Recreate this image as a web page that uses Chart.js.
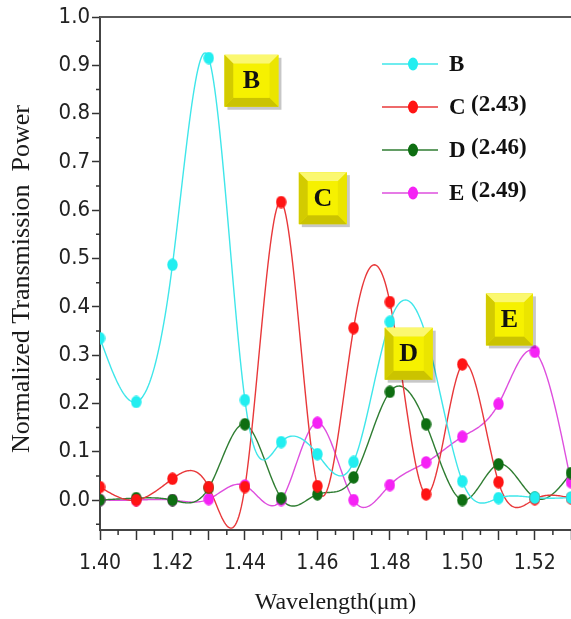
<!DOCTYPE html>
<html lang="en">
<head>
<meta charset="UTF-8" />
<title>Normalized transmission spectra</title>
<style>
  html, body { margin: 0; padding: 0; background: #fff; }
  .chart { width: 571px; height: 619px; position: relative; }
</style>
</head>
<body>
<script src="https://cdn.jsdelivr.net/npm/chart.js"></script>
<div class="chart"><canvas id="chart"></canvas></div>
<script>
// wavelength samples (um)
const wavelengths = [1.40, 1.41, 1.42, 1.43, 1.44, 1.45, 1.46, 1.47, 1.48, 1.49, 1.50, 1.51, 1.52, 1.53];
const seriesB = [0.335, 0.203, 0.487, 0.915, 0.207, 0.120, 0.095, 0.079, 0.369, 0.340, 0.039, 0.004, 0.005, 0.005];
const seriesC = [0.027, 0.000, 0.044, 0.027, 0.027, 0.617, 0.029, 0.356, 0.410, 0.012, 0.281, 0.037, 0.002, 0.004];
const seriesD = [0.000, 0.004, 0.000, 0.025, 0.157, 0.004, 0.012, 0.047, 0.224, 0.157, 0.000, 0.074, 0.005, 0.056];
const seriesE = [0.000, 0.000, 0.000, 0.002, 0.030, 0.000, 0.160, 0.000, 0.031, 0.078, 0.131, 0.199, 0.307, 0.037];

const seriesNames = ["B", "C", "D", "E"];
const seriesTags = ["", "(2.43)", "(2.46)", "(2.49)"];

const xTicks = [1.40, 1.41, 1.42, 1.43, 1.44, 1.45, 1.46, 1.47, 1.48, 1.49, 1.50, 1.51, 1.52, 1.53];
const yTicks = [0.0, 0.1, 0.2, 0.3, 0.4, 0.5, 0.6, 0.7, 0.8, 0.9, 1.0];

// yellow callout boxes, anchored in data coordinates
const callouts = [
  { text: "B", x: 1.4418, y: 0.868, w: 54 },
  { text: "C", x: 1.4615, y: 0.625, w: 48 },
  { text: "D", x: 1.4852, y: 0.303, w: 48 },
  { text: "E", x: 1.5130, y: 0.374, w: 47 },
];

const lineColors = ["#3fe6ea", "#e8383a", "#2f7d32", "#de4fde"];
const dotColors = ["#22eef0", "#ff1414", "#0e6e12", "#f522f5"];

const serif = "'Liberation Serif', 'Times New Roman', serif";
const narrow = "'Liberation Sans Narrow', 'Arial Narrow', 'DejaVu Sans Condensed', 'Roboto Condensed', sans-serif";

function dot(color) {
  const c = document.createElement("canvas");
  c.width = 11;
  c.height = 13;
  const g = c.getContext("2d");
  g.fillStyle = color;
  g.beginPath();
  g.ellipse(5.5, 6.5, 5.2, 6.2, 0, 0, Math.PI * 2);
  g.fill();
  return c;
}

// natural cubic spline second derivatives
function secondDerivs(xs, ys) {
  const n = xs.length;
  const m = new Array(n).fill(0);
  const u = new Array(n).fill(0);
  for (let i = 1; i < n - 1; i++) {
    const sig = (xs[i] - xs[i - 1]) / (xs[i + 1] - xs[i - 1]);
    const p = sig * m[i - 1] + 2;
    m[i] = (sig - 1) / p;
    let d = (ys[i + 1] - ys[i]) / (xs[i + 1] - xs[i]) - (ys[i] - ys[i - 1]) / (xs[i] - xs[i - 1]);
    u[i] = (6 * d / (xs[i + 1] - xs[i - 1]) - sig * u[i - 1]) / p;
  }
  m[n - 1] = 0;
  for (let k = n - 2; k >= 0; k--) m[k] = m[k] * m[k + 1] + u[k];
  return m;
}

const curvePlugin = {
  id: "curves",
  beforeDatasetsDraw(chart) {
    const { ctx, chartArea: a, scales: { x, y } } = chart;
    ctx.save();
    ctx.beginPath();
    ctx.rect(a.left, a.top, a.right - a.left, a.bottom - a.top);
    ctx.clip();
    chart.data.datasets.slice().reverse().forEach((ds) => {
      const xs = ds.data.map((p) => p.x);
      const ys = ds.data.map((p) => p.y);
      const m = secondDerivs(xs, ys);
      ctx.beginPath();
      for (let i = 0; i < xs.length - 1; i++) {
        const h = xs[i + 1] - xs[i];
        for (let s = 0; s <= 30; s++) {
          const B = s / 30, A = 1 - B;
          const xv = xs[i] + B * h;
          const yv = A * ys[i] + B * ys[i + 1] + ((A * A * A - A) * m[i] + (B * B * B - B) * m[i + 1]) * h * h / 6;
          const px = x.getPixelForValue(xv), py = y.getPixelForValue(yv);
          if (i === 0 && s === 0) ctx.moveTo(px, py); else ctx.lineTo(px, py);
        }
      }
      ctx.strokeStyle = ds.borderColor;
      ctx.lineWidth = 1.4;
      ctx.stroke();
    });
    ctx.restore();
  },
  afterDatasetsDraw(chart) {
    const { ctx, scales: { x, y } } = chart;
    callouts.forEach((c) => {
      const cx = x.getPixelForValue(c.x), cy = y.getPixelForValue(c.y);
      const w = c.w, h = 52, b = 9;
      const x0 = cx - w / 2, y0 = cy - h / 2;
      const poly = (pts, col) => {
        ctx.beginPath();
        pts.forEach((p, i) => (i ? ctx.lineTo(p[0], p[1]) : ctx.moveTo(p[0], p[1])));
        ctx.closePath();
        ctx.fillStyle = col;
        ctx.fill();
      };
      ctx.save();
      ctx.fillStyle = "rgba(0,0,0,0.22)";
      ctx.fillRect(x0 + 3, y0 + 3, w, h);
      ctx.fillStyle = "#eee800";
      ctx.fillRect(x0, y0, w, h);
      poly([[x0, y0], [x0 + w, y0], [x0 + w - b, y0 + b], [x0 + b, y0 + b]], "#fbf870");
      poly([[x0, y0], [x0 + b, y0 + b], [x0 + b, y0 + h - b], [x0, y0 + h]], "#d3cb00");
      poly([[x0 + w, y0], [x0 + w, y0 + h], [x0 + w - b, y0 + h - b], [x0 + w - b, y0 + b]], "#ebe500");
      poly([[x0, y0 + h], [x0 + w, y0 + h], [x0 + w - b, y0 + h - b], [x0 + b, y0 + h - b]], "#cbc300");
      ctx.fillStyle = "#f6f100";
      ctx.fillRect(x0 + b, y0 + b, w - 2 * b, h - 2 * b);
      ctx.fillStyle = "#111";
      ctx.font = "bold 26px " + serif;
      ctx.textAlign = "center";
      ctx.textBaseline = "middle";
      ctx.fillText(c.text, cx, cy + 1);
      ctx.restore();
    });
  },
  afterDraw(chart) {
    const { ctx, chartArea: a, scales: { x, y } } = chart;
    ctx.save();
    // top frame line
    ctx.strokeStyle = "#5a5a5a";
    ctx.lineWidth = 2;
    ctx.beginPath();
    ctx.moveTo(a.left, a.top);
    ctx.lineTo(a.right, a.top);
    ctx.stroke();
    // minor ticks
    ctx.strokeStyle = "#333";
    ctx.lineWidth = 1.5;
    ctx.beginPath();
    for (let i = 0; i < xTicks.length - 1; i++) {
      const px = x.getPixelForValue((xTicks[i] + xTicks[i + 1]) / 2);
      ctx.moveTo(px, a.bottom);
      ctx.lineTo(px, a.bottom + 5);
    }
    const yMinor = [-0.05].concat(yTicks.slice(0, -1).map((v, i) => (v + yTicks[i + 1]) / 2));
    yMinor.forEach((v) => {
      const py = y.getPixelForValue(v);
      ctx.moveTo(a.left, py);
      ctx.lineTo(a.left - 4, py);
    });
    ctx.stroke();

    // axis titles
    ctx.fillStyle = "#1a1a1a";
    ctx.font = "24px " + serif;
    ctx.textAlign = "center";
    ctx.textBaseline = "middle";
    ctx.fillText("Wavelength(\u03bcm)", (a.left + a.right) / 2, 603);
    ctx.translate(22, 279);
    ctx.rotate(-Math.PI / 2);
    ctx.font = "26px " + serif;
    ctx.fillText("Normalized Transmission  Power", 0, 0);
    ctx.restore();

    // legend
    ctx.save();
    seriesNames.forEach((name, i) => {
      const ly = 64 + 43 * i;
      ctx.strokeStyle = lineColors[i];
      ctx.lineWidth = 1.5;
      ctx.beginPath();
      ctx.moveTo(382, ly);
      ctx.lineTo(438, ly);
      ctx.stroke();
      ctx.fillStyle = dotColors[i];
      ctx.beginPath();
      ctx.ellipse(413, ly, 5, 6.5, 0, 0, Math.PI * 2);
      ctx.fill();
      ctx.fillStyle = "#111";
      ctx.textAlign = "left";
      ctx.textBaseline = "alphabetic";
      ctx.font = "bold 23px " + serif;
      ctx.fillText(name, 449, ly + 7);
      if (seriesTags[i]) {
        ctx.font = "bold 23px " + serif;
        ctx.fillText(seriesTags[i], 471, ly + 4);
      }
    });
    ctx.restore();
  },
};

const series = [seriesB, seriesC, seriesD, seriesE];

window.onload = () => {
  const ctx = document.getElementById("chart");
  new Chart(ctx, {
    type: "line",
    data: {
      datasets: series.map((vals, i) => ({
        label: seriesNames[i],
        data: wavelengths.map((w, k) => ({ x: w, y: vals[k] })),
        showLine: false,
        borderColor: lineColors[i],
        backgroundColor: dotColors[i],
        pointStyle: dot(dotColors[i]),
        pointRadius: 6,
        pointHoverRadius: 6,
      })),
    },
    options: {
      animation: false,
      responsive: true,
      maintainAspectRatio: false,
      layout: { autoPadding: false, padding: { top: 17, left: 0, right: 0, bottom: 0 } },
      plugins: { legend: { display: false }, tooltip: { enabled: false } },
      scales: {
        x: {
          type: "linear",
          min: 1.40,
          max: 1.53,
          afterBuildTicks: (s) => { s.ticks = xTicks.map((v) => ({ value: v })); },
          afterFit: (s) => { s.height = 89; s.paddingRight = 0; s.paddingLeft = 0; },
          ticks: {
            autoSkip: false,
            maxRotation: 0,
            padding: 11,
            color: "#222",
            font: { family: narrow, size: 21 },
            callback: (v) => (Math.round(v * 100) % 2 === 0 ? v.toFixed(2) : ""),
          },
          grid: { display: true, drawOnChartArea: false, tickLength: 10, tickColor: "#333", tickWidth: 1.5 },
          border: { display: true, color: "#444", width: 2 },
        },
        y: {
          type: "linear",
          min: -0.062,
          max: 1.0,
          afterBuildTicks: (s) => { s.ticks = yTicks.map((v) => ({ value: v })); },
          afterFit: (s) => { s.width = 100; },
          ticks: {
            padding: 2,
            color: "#222",
            font: { family: narrow, size: 22 },
            callback: (v) => v.toFixed(1),
          },
          grid: { display: true, drawOnChartArea: false, tickLength: 8, tickColor: "#333", tickWidth: 1.5 },
          border: { display: true, color: "#444", width: 2 },
        },
      },
    },
    plugins: [curvePlugin],
  });
};
</script>
</body>
</html>
